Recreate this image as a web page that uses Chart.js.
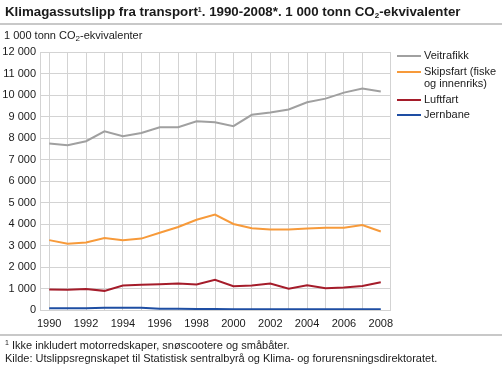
<!DOCTYPE html>
<html>
<head>
<meta charset="utf-8">
<script src="https://cdn.jsdelivr.net/npm/chart.js@4"></script>
<style>
  html, body { margin: 0; padding: 0; background: #fff; }
  body { width: 502px; height: 369px; position: relative; overflow: hidden; font-family: "Liberation Sans", Arial, sans-serif; color: #1a1a1a; }
  #wrap { position: absolute; left: 0; top: 0; width: 502px; height: 369px; }
  .title { position: absolute; left: 5px; top: 4px; font-size: 13.3px; font-weight: bold; white-space: nowrap; }
  .rule { position: absolute; left: 0; width: 502px; height: 0; border-top: 2px solid #c8c8c8; }
  .ytitle { position: absolute; left: 4px; top: 29px; font-size: 11px; white-space: nowrap; }
  sub { font-size: 8px; vertical-align: -2px; line-height: 0; }
  sup { font-size: 7px; vertical-align: 4px; line-height: 0; }
  #legend { position: absolute; left: 397px; top: 49px; width: 105px; overflow: hidden; font-size: 11px; }
  #legend .item { position: relative; padding-left: 27px; line-height: 12.5px; margin-bottom: 3px; white-space: nowrap; }
  #legend .swatch { position: absolute; left: 0; top: 6px; width: 24px; height: 2px; }
  .foot { position: absolute; left: 5px; font-size: 11px; white-space: nowrap; }
</style>
</head>
<body>
<div id="wrap"><canvas id="c" width="502" height="369"></canvas></div>
<div class="title">Klimagassutslipp fra transport<sup>1</sup>. 1990-2008*. 1 000 tonn CO<sub>2</sub>-ekvivalenter</div>
<div class="rule" style="top:23px"></div>
<div class="ytitle">1 000 tonn CO<sub>2</sub>-ekvivalenter</div>
<div id="legend"></div>
<div class="rule" style="top:334px"></div>
<div class="foot" style="top:339px"><sup>1</sup> Ikke inkludert motorredskaper, snøscootere og småbåter.</div>
<div class="foot" style="top:352px">Kilde: Utslippsregnskapet til Statistisk sentralbyrå og Klima- og forurensningsdirektoratet.</div>
<script>
const years = ['1990','1991','1992','1993','1994','1995','1996','1997','1998','1999',
               '2000','2001','2002','2003','2004','2005','2006','2007','2008'];

const veitrafikk = [7740, 7660, 7850, 8310, 8080, 8230, 8500, 8500, 8780, 8730,
                    8550, 9080, 9190, 9330, 9660, 9830, 10110, 10300, 10160];
const skipsfart  = [3250, 3080, 3140, 3350, 3250, 3320, 3590, 3860, 4200, 4440,
                    4000, 3800, 3740, 3740, 3790, 3830, 3830, 3950, 3650];
const luftfart   = [950, 940, 980, 890, 1140, 1170, 1200, 1230, 1190, 1400,
                    1110, 1140, 1230, 990, 1150, 1010, 1050, 1120, 1290];
const jernbane   = [80, 80, 85, 100, 100, 100, 60, 55, 50, 50,
                    40, 35, 35, 35, 35, 35, 35, 35, 35];

const seriesNames  = ['Veitrafikk', 'Skipsfart (fiske og innenriks)', 'Luftfart', 'Jernbane'];
const legendLines  = [['Veitrafikk'], ['Skipsfart (fiske', 'og innenriks)'], ['Luftfart'], ['Jernbane']];
const seriesColors = ['#a0a0a0', '#f79a3a', '#a51c2a', '#1e4ea3'];
const seriesData   = [veitrafikk, skipsfart, luftfart, jernbane];

const yTicks = [0, 1000, 2000, 3000, 4000, 5000, 6000, 7000, 8000, 9000, 10000, 11000, 12000];

const gridCol = '#d3d3d3';
const font = { family: '"Liberation Sans", Arial, sans-serif', size: 11 };

document.getElementById('legend').innerHTML = legendLines.map((lines, i) =>
  `<div class="item"><span class="swatch" style="background:${seriesColors[i]}"></span>${lines.join('<br>')}</div>`
).join('');

new Chart(document.getElementById('c'), {
  type: 'line',
  data: {
    labels: years,
    datasets: seriesData.map((d, i) => ({
      label: seriesNames[i], data: d, borderColor: seriesColors[i], backgroundColor: seriesColors[i],
      borderWidth: 2, pointRadius: 0, tension: 0, fill: false,
    })),
  },
  options: {
    responsive: false, animation: false,
    layout: { padding: { left: 0, top: 52, right: 112, bottom: 34 } },
    plugins: { legend: { display: false }, tooltip: { enabled: false } },
    scales: {
      x: {
        offset: true,
        grid: { offset: false, color: ctx => ctx.index === years.length - 1 ? 'rgba(0,0,0,0)' : gridCol, lineWidth: 1, drawTicks: false },
        border: { display: true, color: gridCol },
        ticks: {
          autoSkip: false, maxRotation: 0, color: '#1a1a1a', font, padding: 7,
          callback: (v, i) => i % 2 === 0 ? years[i] : '',
        },
        afterFit: s => { s.height = 25; },
      },
      y: {
        min: 0, max: 12000,
        afterBuildTicks: s => { s.ticks = yTicks.map(v => ({ value: v })); },
        grid: { color: gridCol, lineWidth: 1, drawTicks: false },
        border: { display: true, color: gridCol },
        ticks: { color: '#1a1a1a', font, padding: 4, callback: v => v.toLocaleString('nb-NO').replace(/\s/g, ' ') },
        afterFit: s => { s.width = 40; },
      },
      yr: {
        position: 'right', min: 0, max: 12000,
        grid: { display: false }, ticks: { display: false },
        border: { display: true, color: gridCol },
        afterFit: s => { s.width = 0; },
      },
    },
  },
});
</script>
</body>
</html>
